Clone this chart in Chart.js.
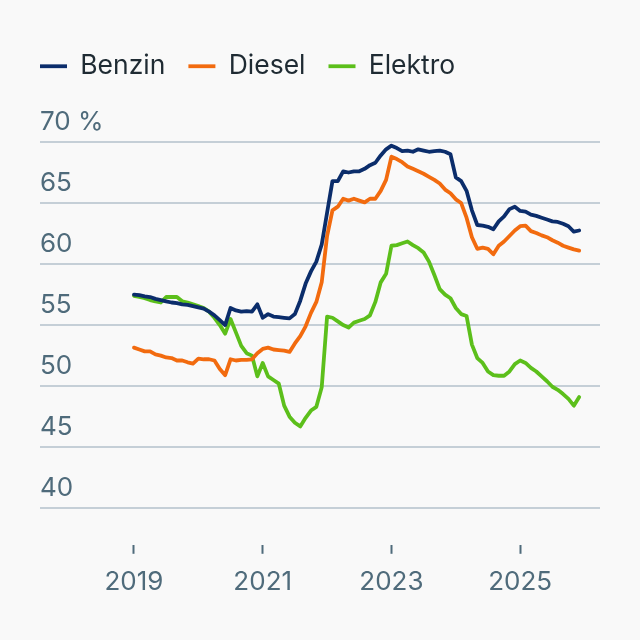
<!DOCTYPE html>
<html>
<head>
<meta charset="utf-8">
<script src="https://cdn.jsdelivr.net/npm/chart.js@4"></script>
<style>
  body { margin: 0; background: #f9f9f9; }
  canvas { display: block; }
</style>
</head>
<body>
<canvas id="shareChart" width="640" height="640"></canvas>
<script>
// monthly values, Jan 2019 - Dec 2025 (share in %)
const benzin = [
  57.5, 57.45, 57.35, 57.3, 57.15, 57.05, 56.95, 56.85, 56.8, 56.7, 56.65, 56.55,
  56.45, 56.35, 56.1, 55.8, 55.4, 55.0, 56.4, 56.2, 56.1, 56.15, 56.1, 56.7,
  55.6, 55.9, 55.7, 55.65, 55.6, 55.55, 55.9, 57.0, 58.4, 59.4, 60.2, 61.6,
  64.2, 66.8, 66.8, 67.6, 67.5, 67.6, 67.6, 67.8, 68.1, 68.3, 68.9, 69.4,
  69.7, 69.5, 69.25, 69.3, 69.2, 69.4, 69.3, 69.2, 69.25, 69.3, 69.2, 69.0,
  67.1, 66.8, 66.0, 64.4, 63.2, 63.15, 63.05, 62.85, 63.5, 63.9, 64.5, 64.7,
  64.35, 64.3, 64.05, 63.95, 63.8, 63.65, 63.5, 63.45, 63.3, 63.1, 62.65, 62.75
];
const diesel = [
  53.15, 53.0, 52.85, 52.85, 52.6, 52.5, 52.35, 52.3, 52.1, 52.1, 51.95, 51.85,
  52.25, 52.2, 52.2, 52.1, 51.4, 50.9, 52.2, 52.1, 52.15, 52.15, 52.2, 52.7,
  53.05, 53.15, 53.0, 52.95, 52.9, 52.8, 53.5, 54.1, 54.9, 56.0, 56.9, 58.5,
  62.3, 64.4, 64.7, 65.35, 65.2, 65.35, 65.2, 65.05, 65.35, 65.35, 66.0, 66.9,
  68.8, 68.6, 68.35, 68.0, 67.8, 67.6, 67.4, 67.15, 66.9, 66.6, 66.1, 65.8,
  65.3, 65.0, 63.8, 62.2, 61.25, 61.35, 61.25, 60.8, 61.5, 61.85, 62.3, 62.75,
  63.1, 63.15, 62.7, 62.55, 62.35, 62.2, 61.95, 61.75, 61.5, 61.35, 61.2, 61.1
];
const elektro = [
  57.4, 57.3, 57.2, 57.05, 56.95, 56.85, 57.3, 57.3, 57.3, 56.95, 56.85, 56.7,
  56.55, 56.4, 56.1, 55.6, 55.0, 54.3, 55.5, 54.4, 53.3, 52.7, 52.5, 50.8,
  51.9, 50.8, 50.5, 50.2, 48.4, 47.5, 47.0, 46.7, 47.4, 48.0, 48.3, 49.9,
  55.7, 55.6, 55.3, 55.0, 54.8, 55.2, 55.35, 55.5, 55.8, 56.9, 58.5, 59.2,
  61.5, 61.55, 61.7, 61.85, 61.55, 61.3, 60.95, 60.2, 59.1, 57.95, 57.5, 57.2,
  56.4, 55.9, 55.75, 53.4, 52.3, 51.9, 51.2, 50.9, 50.85, 50.85, 51.2, 51.8,
  52.1, 51.9, 51.5, 51.2, 50.8, 50.4, 49.95, 49.7, 49.35, 48.95, 48.4, 49.1
];
const seriesNames = ["Benzin", "Diesel", "Elektro"];
const yearTicks = [2019, 2021, 2023, 2025];
const yTicks = [40, 45, 50, 55, 60, 65, 70];

// month labels -> decimal year for the linear x axis
const months = [];
for (let y = 2019; y <= 2025; y++) {
  for (let m = 1; m <= 12; m++) {
    months.push(y + "-" + String(m).padStart(2, "0"));
  }
}
function toYear(label) {
  const parts = label.split("-");
  return Number(parts[0]) + (Number(parts[1]) - 1) / 12;
}
function points(values) {
  return values.map(function (v, i) { return { x: toYear(months[i]), y: v }; });
}

const font = "Inter";
const axisColor = "#4f6b7b";

// push the plot area down below the legend
const legendSpacer = {
  id: "legendSpacer",
  beforeInit(chart) {
    const fit = chart.legend.fit;
    chart.legend.fit = function () {
      fit.bind(chart.legend)();
      this.height = 112;
    };
  }
};

function lineSet(name, values, color) {
  return {
    label: name,
    data: points(values),
    borderColor: color,
    backgroundColor: color,
    borderWidth: 3.8,
    borderCapStyle: "round",
    borderJoinStyle: "round",
    pointRadius: 0,
    tension: 0
  };
}

const ctx = document.getElementById("shareChart").getContext("2d");
const chart = new Chart(ctx, {
  type: "line",
  data: {
    datasets: [
      lineSet(seriesNames[0], benzin, "#0b2d6b"),
      lineSet(seriesNames[1], diesel, "#f26b0f"),
      lineSet(seriesNames[2], elektro, "#5cbf1b")
    ]
  },
  plugins: [legendSpacer],
  options: {
    responsive: false,
    animation: false,
    layout: { padding: { left: 17, right: 40, top: 30, bottom: 30 } },
    plugins: {
      tooltip: { enabled: false },
      legend: {
        position: "top",
        align: "start",
        labels: {
          usePointStyle: true,
          pointStyle: "line",
          pointStyleWidth: 27,
          padding: 23,
          color: "#1f2b33",
          font: { family: font, size: 26.5 }
        }
      }
    },
    scales: {
      x: {
        type: "linear",
        min: 2017.54,
        max: 2026.24,
        afterBuildTicks: function (axis) {
          axis.ticks = yearTicks.map(function (v) { return { value: v }; });
        },
        grid: {
          drawOnChartArea: false,
          drawTicks: true,
          tickLength: 9,
          tickWidth: 2,
          tickColor: axisColor
        },
        border: { display: false },
        ticks: {
          padding: 12.5,
          color: axisColor,
          font: { family: font, size: 26 },
          callback: function (v) { return String(v); }
        }
      },
      y: {
        min: 37,
        max: 70,
        afterBuildTicks: function (axis) {
          axis.ticks = yTicks.map(function (v) { return { value: v }; });
        },
        afterFit: function (axis) {
          axis.width = 23;
        },
        grid: {
          color: "#c5cfd7",
          lineWidth: 2,
          drawTicks: false
        },
        border: { display: false },
        ticks: {
          mirror: true,
          padding: 0,
          labelOffset: -20,
          color: axisColor,
          font: { family: font, size: 26 },
          callback: function (v) { return v === 70 ? "70 %" : String(v); }
        }
      }
    }
  }
});
</script>
</body>
</html>
